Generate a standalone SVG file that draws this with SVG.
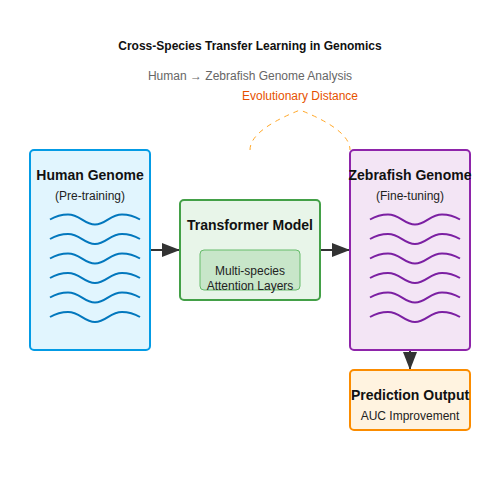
<svg xmlns="http://www.w3.org/2000/svg" width="500" height="500" viewBox="0 0 500 500">
<defs>
<marker id="arr" markerUnits="userSpaceOnUse" markerWidth="18" markerHeight="14" refX="18" refY="7" orient="auto">
<path d="M0,0 L18,7 L0,14 z" fill="#333"/>
</marker>
<path id="wave" d="M0,0 C6,-3.5 12,-5 18,-5 C30,-5 34,5 45,5 C56,5 60,-5 72,-5 C78,-5 84,-3.5 90,0"/>
</defs>
<style>
text{font-family:"Liberation Sans",Arial,sans-serif;text-anchor:middle}
.t{font-size:14px;font-weight:bold;fill:#111}
.s{font-size:12px;fill:#222}
.hw{fill:none;stroke:#0277bd;stroke-width:2}
.zw{fill:none;stroke:#7b1fa2;stroke-width:2}
.conn{stroke:#333;stroke-width:2;fill:none}
</style>
<rect width="500" height="500" fill="#fff"/>
<text x="250" y="50" style="font-size:12px;font-weight:bold;fill:#111">Cross-Species Transfer Learning in Genomics</text>
<text x="250" y="80" style="font-size:12px;fill:#666">Human → Zebrafish Genome Analysis</text>
<g id="connectors">
<line class="conn" x1="150" y1="250" x2="180" y2="250" marker-end="url(#arr)"/>
<line class="conn" x1="320" y1="250" x2="350" y2="250" marker-end="url(#arr)"/>
<line class="conn" x1="410" y1="350" x2="410" y2="370" marker-end="url(#arr)"/>
<path d="M250,150 Q250,130 300,110 Q350,130 350,150" fill="none" stroke="#ffa726" stroke-width="1" stroke-dasharray="5,5"/>
</g>
<text x="300" y="100" style="font-size:12px;fill:#e65100">Evolutionary Distance</text>
<g id="human">
<rect x="30" y="150" width="120" height="200" rx="4" fill="#e1f5fe" stroke="#039be5" stroke-width="2"/>
<text class="t" x="90" y="180">Human Genome</text>
<text class="s" x="90" y="200">(Pre-training)</text>
<use href="#wave" class="hw" x="50" y="219.5"/>
<use href="#wave" class="hw" x="50" y="239"/>
<use href="#wave" class="hw" x="50" y="258.5"/>
<use href="#wave" class="hw" x="50" y="278"/>
<use href="#wave" class="hw" x="50" y="297.5"/>
<use href="#wave" class="hw" x="50" y="317"/>
</g>
<g id="transformer">
<rect x="180" y="200" width="140" height="100" rx="4" fill="#e8f5e9" stroke="#43a047" stroke-width="2"/>
<text class="t" x="250" y="230">Transformer Model</text>
<rect x="200" y="250" width="100" height="40" rx="4" fill="#c8e6c9" stroke="#66bb6a" stroke-width="1"/>
<text class="s" x="250" y="275">Multi-species</text>
<text class="s" x="250" y="290">Attention Layers</text>
</g>
<g id="zebrafish">
<rect x="350" y="150" width="120" height="200" rx="4" fill="#f3e5f5" stroke="#8e24aa" stroke-width="2"/>
<text class="t" x="410" y="180">Zebrafish Genome</text>
<text class="s" x="410" y="200">(Fine-tuning)</text>
<use href="#wave" class="zw" x="370" y="219.5"/>
<use href="#wave" class="zw" x="370" y="239"/>
<use href="#wave" class="zw" x="370" y="258.5"/>
<use href="#wave" class="zw" x="370" y="278"/>
<use href="#wave" class="zw" x="370" y="297.5"/>
<use href="#wave" class="zw" x="370" y="317"/>
</g>
<g id="prediction">
<rect x="350" y="370" width="120" height="60" rx="4" fill="#fff3e0" stroke="#fb8c00" stroke-width="2"/>
<text class="t" x="410" y="400">Prediction Output</text>
<text class="s" x="410" y="420">AUC Improvement</text>
</g>
</svg>
